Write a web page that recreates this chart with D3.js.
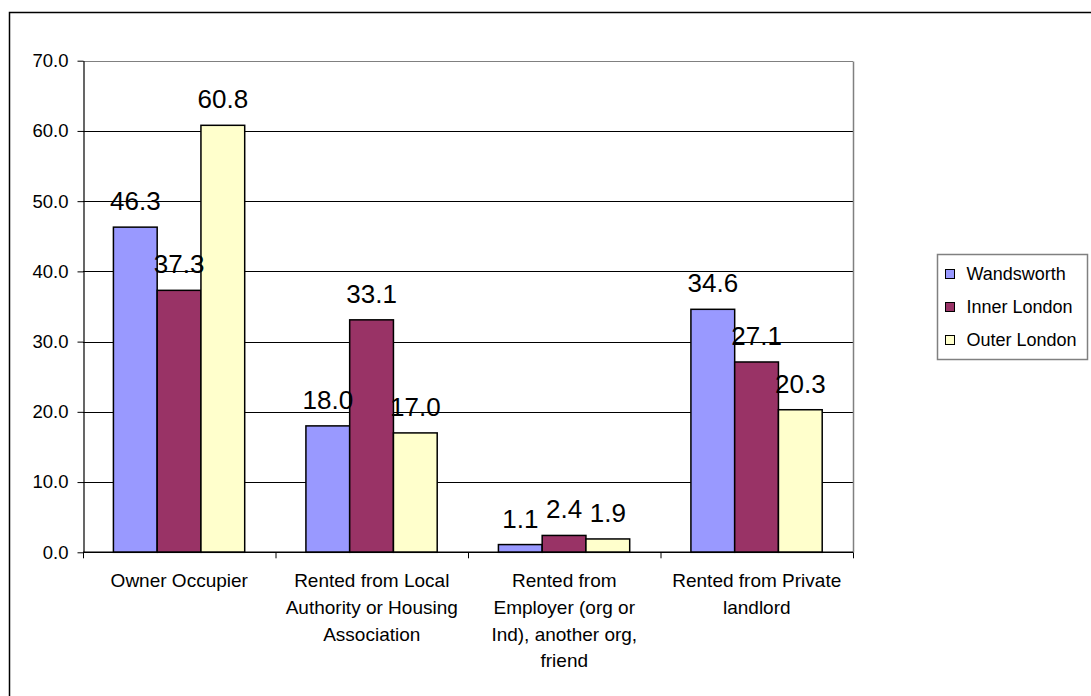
<!DOCTYPE html>
<html>
<head>
<meta charset="utf-8">
<script src="https://cdn.jsdelivr.net/npm/d3@7"></script>
<style>
  html, body { margin: 0; padding: 0; background: #fff; }
  svg { display: block; font-family: "Liberation Sans", Arial, sans-serif; }
</style>
</head>
<body>
<svg id="chart" width="1091" height="696"></svg>
<script>
// Housing tenure by area (%)
const categories = [
  ["Owner Occupier"],
  ["Rented from Local", "Authority or Housing", "Association"],
  ["Rented from", "Employer (org or", "Ind), another org,", "friend"],
  ["Rented from Private", "landlord"]
];
const seriesNames = ["Wandsworth", "Inner London", "Outer London"];
const wandsworth = [46.3, 18.0, 1.1, 34.6];
const innerLondon = [37.3, 33.1, 2.4, 27.1];
const outerLondon = [60.8, 17.0, 1.9, 20.3];
const yTicks = [0, 10, 20, 30, 40, 50, 60, 70];
const colors = ["#9999FF", "#993366", "#FFFFCC"];

const seriesValues = [wandsworth, innerLondon, outerLondon];

const svg = d3.select("#chart");

// chart frame
svg.append("rect")
  .attr("x", 9.5).attr("y", 12.5)
  .attr("width", 1200).attr("height", 800)
  .attr("fill", "#fff").attr("stroke", "#000").attr("stroke-width", 1.5);

const plot = { left: 83, right: 853, top: 60.7, bottom: 552.3 };

const x0 = d3.scaleBand()
  .domain(d3.range(categories.length))
  .range([plot.left, plot.right])
  .padding(0);
const bw = x0.bandwidth();
const x1 = d3.scaleBand()
  .domain(d3.range(seriesNames.length))
  .range([bw * 0.158, bw * 0.84])
  .padding(0);
const y = d3.scaleLinear().domain([0, 70]).range([plot.bottom, plot.top]);

// gridlines
svg.append("g")
  .selectAll("line")
  .data(yTicks.filter(t => t > 0))
  .join("line")
  .attr("x1", plot.left).attr("x2", plot.right)
  .attr("y1", d => Math.round(y(d)) + 0.5).attr("y2", d => Math.round(y(d)) + 0.5)
  .attr("stroke", d => d === 70 ? "#808080" : "#000")
  .attr("stroke-width", 1);

// plot area right edge
svg.append("line")
  .attr("x1", plot.right + 0.5).attr("x2", plot.right + 0.5)
  .attr("y1", Math.round(y(70)) + 0.5).attr("y2", plot.bottom)
  .attr("stroke", "#808080").attr("stroke-width", 1.5);

// bars
const groups = svg.append("g")
  .selectAll("g")
  .data(categories.map((c, i) => i))
  .join("g")
  .attr("transform", i => `translate(${x0(i)},0)`);

groups.selectAll("rect")
  .data(i => seriesValues.map((s, k) => ({ k, v: s[i] })))
  .join("rect")
  .attr("x", d => x1(d.k))
  .attr("width", x1.bandwidth())
  .attr("y", d => y(d.v))
  .attr("height", d => y(0) - y(d.v))
  .attr("fill", d => colors[d.k])
  .attr("stroke", "#000")
  .attr("stroke-width", 1.5);

// value labels
groups.selectAll("text")
  .data(i => seriesValues.map((s, k) => ({ k, v: s[i] })))
  .join("text")
  .attr("x", d => x1(d.k) + x1.bandwidth() / 2)
  .attr("y", d => y(d.v) - 17)
  .attr("text-anchor", "middle")
  .attr("font-size", 26)
  .attr("fill", "#000")
  .text(d => d.v.toFixed(1));

// y axis
const yAxis = svg.append("g")
  .attr("transform", `translate(${plot.left + 0.5},0)`)
  .call(d3.axisLeft(y).tickValues(yTicks).tickSize(6).tickSizeOuter(0).tickPadding(9)
    .tickFormat(d => d.toFixed(1)));
yAxis.select(".domain").attr("stroke", "#000").attr("stroke-width", 1.2);
yAxis.selectAll(".tick line").attr("stroke", "#000");
yAxis.selectAll(".tick text")
  .attr("font-size", 18.5)
  .attr("font-family", "Liberation Sans, Arial, sans-serif")
  .attr("fill", "#000");

// x axis
const xAxis = svg.append("g")
  .attr("transform", `translate(0,${plot.bottom})`);
xAxis.append("line")
  .attr("x1", plot.left).attr("x2", plot.right)
  .attr("stroke", "#000").attr("stroke-width", 1.5);
xAxis.selectAll("line.tick")
  .data(d3.range(categories.length + 1))
  .join("line")
  .attr("class", "tick")
  .attr("x1", i => (i < categories.length ? x0(i) : plot.right) + 0.5)
  .attr("x2", i => (i < categories.length ? x0(i) : plot.right) + 0.5)
  .attr("y1", 0).attr("y2", 6)
  .attr("stroke", "#000");

const catText = xAxis.selectAll("text.cat")
  .data(categories)
  .join("text")
  .attr("class", "cat")
  .attr("text-anchor", "middle")
  .attr("font-size", 19)
  .attr("fill", "#000")
  .attr("transform", (d, i) => `translate(${x0(i) + bw / 2},35)`);
catText.selectAll("tspan")
  .data(d => d)
  .join("tspan")
  .attr("x", 0)
  .attr("y", (d, j) => j * 26.7)
  .text(d => d);

// legend
const legend = svg.append("g").attr("transform", "translate(937.5,254.5)");
legend.append("rect")
  .attr("width", 150).attr("height", 105)
  .attr("fill", "#fff").attr("stroke", "#808080").attr("stroke-width", 1.5);
const items = legend.selectAll("g.item")
  .data(seriesNames)
  .join("g")
  .attr("class", "item")
  .attr("transform", (d, i) => `translate(0,${19 + i * 33})`);
items.append("rect")
  .attr("x", 8).attr("y", -4)
  .attr("width", 9).attr("height", 9)
  .attr("fill", (d, i) => colors[i])
  .attr("stroke", "#000").attr("stroke-width", 1);
items.append("text")
  .attr("x", 29).attr("y", 6.5)
  .attr("font-size", 18)
  .attr("fill", "#000")
  .text(d => d);
</script>
</body>
</html>
